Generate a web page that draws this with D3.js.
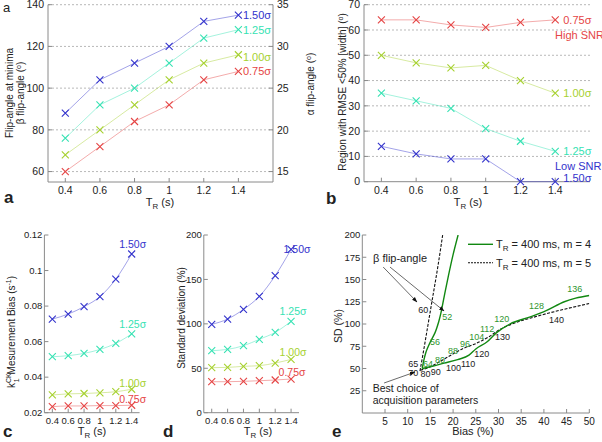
<!DOCTYPE html>
<html><head><meta charset="utf-8">
<script src="https://cdn.jsdelivr.net/npm/d3@7"></script>
<style>
body{margin:0;background:#fff}
svg{display:block}
text{font-family:"Liberation Sans",Arial,Helvetica,sans-serif;fill:#222}
</style>
</head><body>
<svg id="fig" width="602" height="442"></svg>
<script>
// ---------------- DATA ----------------
const TR = [0.4, 0.6, 0.8, 1.0, 1.2, 1.4];
const sigmaLabels = ["0.75σ", "1.00σ", "1.25σ", "1.50σ"];
const trTicks = [0.4, 0.6, 0.8, 1, 1.2, 1.4];

// panel a: beta flip-angle at minima (deg), rows follow sigmaLabels
const flipBeta = [
  [60, 72, 84, 92, 104, 108],
  [68, 80, 92, 104, 112, 116],
  [76, 92, 100, 112, 124, 128],
  [88, 104, 112, 120, 132, 135]
];
const flipBetaTicks = [60, 80, 100, 120, 140];
const flipAlphaTicks = [15, 20, 25, 30, 35];

// panel b: region with RMSE < 50% (deg)
const regionWidth = [
  [64, 64, 62, 61, 63, 64],
  [50, 47, 45, 46, 40, 35],
  [35, 32, 29, 21, 16, 12],
  [14, 11, 9, 9, 0, 0]
];
const regionTicks = [0, 10, 20, 30, 40, 50, 60, 70];

// panel c: k1CK measurement bias (1/s)
const biasK = [
  [0.0234, 0.0238, 0.0238, 0.0240, 0.0240, 0.0242],
  [0.0300, 0.0306, 0.0308, 0.0312, 0.0318, 0.0332],
  [0.0515, 0.0521, 0.0534, 0.0556, 0.0590, 0.0643],
  [0.0727, 0.0755, 0.0797, 0.0853, 0.0952, 0.1093]
];
const biasTicks = [0.02, 0.04, 0.06, 0.08, 0.1, 0.12];

// panel d: standard deviation (%)
const sdPct = [
  [34.9, 34.9, 35.3, 36.0, 36.8, 37.9],
  [50.7, 51.0, 52.2, 52.9, 55.9, 60.0],
  [69.8, 71.3, 75.4, 82.6, 90.4, 102.8],
  [99.4, 105.4, 116.3, 130.9, 154.2, 183.9]
];
const sdTicks = [0, 50, 100, 150, 200];

// panel e: SD vs Bias curves (Bias %, SD %)
const m4Steep = [[13.2,50],[13.5,58],[14,68],[15,80],[16,90],[16.8,102],[17.3,112],[18,130],[19,155],[20,178],[21.1,200]];
const m4Main  = [[13.2,50],[15,52],[18,56],[21,60],[23.5,65],[25,72],[27.5,80],[29.5,90],[32.5,100],[37,108],[40.5,115],[44.5,125],[47,129],[50,132]];
const m5Steep = [[12.7,47],[13.5,70],[14.5,100],[15.5,130],[16.5,160],[17.7,200]];
const m5Main  = [[12.8,48],[15,52],[18.5,62],[22,72],[25,78],[28,86],[30,93],[33,100],[38,108],[44,116],[50,123]];
const m4Angles = ["52","56","64","80","88","96","104","112","120","128","136"];
const m4AngleAt = [[18.7,108],[16,80],[14.5,55.7],[17.1,59.5],[20,69.6],[22.6,78.2],[25.2,85.7],[27.5,95.1],[30.7,106.3],[38.4,120.1],[46.8,140]];
const m5Angles = ["60","65","70","80","90","100","110","120","130","140"];
const m5AngleAt = [[13.4,115.6],[11.2,55],[11.2,45.2],[13.9,43.7],[16.2,46.3],[20.1,51.2],[23.3,55.7],[26.3,67],[30.9,85.7],[42.8,105.2]];
const eXTicks = [5,10,15,20,25,30,35,40,45,50];
const eYTicks = [25,50,75,100,125,150,175,200];

// ---------------- STYLE ----------------
const colors = ["#e54545", "#a6d12f", "#36e2b3", "#3333cc"];
const axisColor = "#8a8a8a";
const svg = d3.select("#fig");

svg.append("defs").append("marker")
  .attr("id","arr").attr("viewBox","0 0 10 10").attr("refX",9).attr("refY",5)
  .attr("markerWidth",7).attr("markerHeight",7).attr("orient","auto")
  .append("path").attr("d","M0,1.5L10,5L0,8.5Z").attr("fill","#111");

function cross(g, x, y, c) {
  g.append("path").attr("transform", `translate(${x},${y})`)
    .attr("d", "M-3.5,-3.5L3.5,3.5M-3.5,3.5L3.5,-3.5")
    .attr("stroke", c).attr("stroke-width", 1.1).attr("fill", "none");
}

function trLabel(g, cx, y, fs) {
  const t = g.append("text").attr("x", cx).attr("y", y).attr("text-anchor", "middle").attr("font-size", fs);
  t.append("tspan").text("T");
  t.append("tspan").attr("dy", 3).attr("font-size", fs * 0.72).text("R");
  t.append("tspan").attr("dy", -3).text(" (s)");
}

function yAxisLeft(g, y, x0, ticks, fmt, fs, top, bottom, gap) {
  g.append("line").attr("x1", x0).attr("x2", x0).attr("y1", top).attr("y2", bottom)
    .attr("stroke", axisColor);
  ticks.forEach(t => {
    g.append("line").attr("x1", x0).attr("x2", x0 + 4).attr("y1", y(t)).attr("y2", y(t)).attr("stroke", axisColor);
    g.append("text").attr("x", x0 - gap).attr("y", y(t)).attr("dy", "0.35em")
      .attr("text-anchor", "end").attr("font-size", fs).text(fmt(t));
  });
}
function xAxisBottom(g, x, y0, ticks, fmt, fs, left, right) {
  g.append("line").attr("x1", left).attr("x2", right).attr("y1", y0).attr("y2", y0).attr("stroke", axisColor);
  ticks.forEach(t => {
    g.append("line").attr("x1", x(t)).attr("x2", x(t)).attr("y1", y0).attr("y2", y0 - 4).attr("stroke", axisColor);
    g.append("text").attr("x", x(t)).attr("y", y0 + 4).attr("dy", "0.75em")
      .attr("text-anchor", "middle").attr("font-size", fs).text(fmt(t));
  });
}

function seriesPanel(o) {
  const g = svg.append("g");
  const x = d3.scaleLinear().domain(o.xd).range([o.left, o.right]);
  const y = d3.scaleLinear().domain(o.yd).range([o.bottom, o.top]);
  if (o.grid) {
    o.yTicks.forEach(t => {
      if (y(t) < o.bottom - 1)
        g.append("line").attr("x1", o.left).attr("x2", o.right).attr("y1", y(t)).attr("y2", y(t))
          .attr("stroke", "#9a9a9a").attr("stroke-width", 0.7).attr("stroke-dasharray", "2,2");
    });
  }
  yAxisLeft(g, y, o.left, o.yTicks, o.yFmt, o.fs, o.top, o.bottom, o.gap);
  xAxisBottom(g, x, o.bottom, trTicks, d => String(d), o.fs, o.left, o.right);
  const line = d3.line().x((d, i) => x(TR[i])).y(d => y(d)).curve(o.curve);
  o.data.forEach((row, k) => {
    g.append("path").attr("d", line(row)).attr("fill", "none")
      .attr("stroke", colors[k]).attr("stroke-opacity", 0.45).attr("stroke-width", 1);
    row.forEach((v, i) => cross(g, x(TR[i]), y(v), colors[k]));
    const off = o.labelOff[k];
    g.append("text").attr("x", x(TR[5]) + off[0]).attr("y", y(row[5]) + off[1]).attr("dy", "0.35em")
      .attr("text-anchor", off[2] || "start").attr("font-size", o.lfs)
      .style("fill", colors[k]).text(sigmaLabels[k]);
  });
  return {g, x, y};
}

// ---------------- PANEL a ----------------
const pa = seriesPanel({
  left: 48, right: 273, top: 4.7, bottom: 182, xd: [0.3, 1.6], yd: [55, 140],
  yTicks: flipBetaTicks, yFmt: d => d, fs: 10.5, lfs: 11, grid: true, gap: 4,
  data: flipBeta, curve: d3.curveLinear,
  labelOff: [[4.5, 0], [4.5, 2], [4.5, 0], [4.5, 0]]
});
{
  const g = pa.g;
  const yR = d3.scaleLinear().domain([55 / 4, 35]).range([182, 4.7]);
  g.append("line").attr("x1", 273).attr("x2", 273).attr("y1", 4.7).attr("y2", 182).attr("stroke", axisColor);
  flipAlphaTicks.forEach(t => {
    g.append("line").attr("x1", 273).attr("x2", 269).attr("y1", yR(t)).attr("y2", yR(t)).attr("stroke", axisColor);
    g.append("text").attr("x", 277).attr("y", yR(t)).attr("dy", "0.35em").attr("font-size", 10.5).text(t);
  });
  trLabel(g, 160, 206, 11);
  const yl = g.append("g").attr("transform", "translate(13,93) rotate(-90)");
  yl.append("text").attr("text-anchor", "middle").attr("font-size", 10).text("Flip-angle at minima");
  const t2 = yl.append("text").attr("y", 10.5).attr("text-anchor", "middle").attr("font-size", 10);
  t2.append("tspan").text("β flip-angle (");
  t2.append("tspan").attr("dy", -3).attr("font-size", 7).text("o");
  t2.append("tspan").attr("dy", 3).text(")");
  const yr = g.append("g").attr("transform", "translate(314,84) rotate(-90)");
  const t3 = yr.append("text").attr("text-anchor", "middle").attr("font-size", 10);
  t3.append("tspan").text("α flip-angle (");
  t3.append("tspan").attr("dy", -3).attr("font-size", 7).text("o");
  t3.append("tspan").attr("dy", 3).text(")");
  g.append("text").attr("x", 3).attr("y", 12).attr("font-size", 13).text("a");
  g.append("text").attr("x", 4).attr("y", 203).attr("font-size", 17).attr("font-weight", "bold").text("a");
}

// ---------------- PANEL b ----------------
const pb = seriesPanel({
  left: 364, right: 590, top: 4.7, bottom: 181.7, xd: [0.3, 1.6], yd: [0, 70],
  yTicks: regionTicks, yFmt: d => d, fs: 10.5, lfs: 11, grid: true, gap: 4,
  data: regionWidth, curve: d3.curveLinear,
  labelOff: [[8, 0], [8, 0], [8, 0], [8, -4]]
});
{
  const g = pb.g;
  g.append("text").attr("x", 555).attr("y", 35).attr("dy", "0.35em").attr("font-size", 11)
    .style("fill", colors[0]).text("High SNR");
  g.append("text").attr("x", 555).attr("y", 166.5).attr("dy", "0.35em").attr("font-size", 11)
    .style("fill", colors[3]).text("Low SNR");
  trLabel(g, 468, 206, 11);
  const yl = g.append("g").attr("transform", "translate(346,92) rotate(-90)");
  const t = yl.append("text").attr("text-anchor", "middle").attr("font-size", 10);
  t.append("tspan").text("Region with RMSE <50% [width] (");
  t.append("tspan").attr("dy", -3).attr("font-size", 7).text("o");
  t.append("tspan").attr("dy", 3).text(")");
  g.append("text").attr("x", 326).attr("y", 204).attr("font-size", 17).attr("font-weight", "bold").text("b");
}

// ---------------- PANEL c ----------------
const pc = seriesPanel({
  left: 44.4, right: 139.6, top: 235, bottom: 412.7, xd: [0.3, 1.5], yd: [0.02, 0.12],
  yTicks: biasTicks, yFmt: d => String(+d.toFixed(2)), fs: 9.5, lfs: 10.5, grid: false, gap: 2,
  data: biasK, curve: d3.curveMonotoneX,
  labelOff: [[1, -6, "middle"], [1, -6, "middle"], [1, -10, "middle"], [1, -10, "middle"]]
});
{
  const g = pc.g;
  trLabel(g, 92, 435, 11);
  const yl = g.append("g").attr("transform", "translate(15,332) rotate(-90)");
  const t = yl.append("text").attr("text-anchor", "middle").attr("font-size", 10);
  t.append("tspan").text("k");
  t.append("tspan").attr("dy", -4).attr("font-size", 7).text("CK");
  t.append("tspan").attr("dx", -9).attr("dy", 8).attr("font-size", 7).text("1");
  t.append("tspan").attr("dx", 4).attr("dy", -4).text("Mesurement Bias (s");
  t.append("tspan").attr("dy", -4).attr("font-size", 7).text("-1");
  t.append("tspan").attr("dy", 4).text(")");
  g.append("text").attr("x", 3).attr("y", 437).attr("font-size", 17).attr("font-weight", "bold").text("c");
}

// ---------------- PANEL d ----------------
const pd = seriesPanel({
  left: 203.8, right: 299, top: 235, bottom: 412.7, xd: [0.3, 1.5], yd: [0, 200],
  yTicks: sdTicks, yFmt: d => d, fs: 9.5, lfs: 10.5, grid: false, gap: 2,
  data: sdPct, curve: d3.curveMonotoneX,
  labelOff: [[1, -7, "middle"], [2, -7, "middle"], [2, -10, "middle"], [6, 0, "middle"]]
});
{
  const g = pd.g;
  trLabel(g, 258, 435, 11);
  const yl = g.append("g").attr("transform", "translate(185,318) rotate(-90)");
  yl.append("text").attr("text-anchor", "middle").attr("font-size", 10).text("Standard deviation (%)");
  g.append("text").attr("x", 163).attr("y", 437).attr("font-size", 17).attr("font-weight", "bold").text("d");
}

// ---------------- PANEL e ----------------
{
  const g = svg.append("g");
  const x = d3.scaleLinear().domain([0, 50]).range([362.3, 589.3]);
  const y = d3.scaleLinear().domain([0, 200]).range([413, 235]);
  yAxisLeft(g, y, 362.3, eYTicks, d => d, 9.5, 235, 413, 2);
  xAxisBottom(g, x, 413, eXTicks, d => d, 10, 362.3, 589.3);
  const clip = svg.append("defs").append("clipPath").attr("id", "ce");
  clip.append("rect").attr("x", 362.3).attr("y", 235).attr("width", 227).attr("height", 178);
  const ln = d3.line().x(d => x(d[0])).y(d => y(d[1])).curve(d3.curveMonotoneY);
  const lnX = d3.line().x(d => x(d[0])).y(d => y(d[1])).curve(d3.curveMonotoneX);
  const cg = g.append("g").attr("clip-path", "url(#ce)");
  cg.append("path").attr("d", ln(m5Steep)).attr("fill", "none").attr("stroke", "#111").attr("stroke-width", 1.1).attr("stroke-dasharray", "3,1.5");
  cg.append("path").attr("d", lnX(m5Main)).attr("fill", "none").attr("stroke", "#111").attr("stroke-width", 1.1).attr("stroke-dasharray", "3,1.5");
  cg.append("path").attr("d", ln(m4Steep)).attr("fill", "none").attr("stroke", "#118811").attr("stroke-width", 1.4);
  cg.append("path").attr("d", lnX(m4Main)).attr("fill", "none").attr("stroke", "#118811").attr("stroke-width", 1.4);
  m4Angles.forEach((s, i) => g.append("text").attr("x", x(m4AngleAt[i][0])).attr("y", y(m4AngleAt[i][1]))
    .attr("dy", "0.35em").attr("text-anchor", "middle").attr("font-size", 9).style("fill", "#2f962f").text(s));
  m5Angles.forEach((s, i) => g.append("text").attr("x", x(m5AngleAt[i][0])).attr("y", y(m5AngleAt[i][1]))
    .attr("dy", "0.35em").attr("text-anchor", "middle").attr("font-size", 9).style("fill", "#222").text(s));
  // legend
  g.append("line").attr("x1", 468).attr("x2", 493).attr("y1", 244.3).attr("y2", 244.3).attr("stroke", "#118811").attr("stroke-width", 1.4);
  g.append("line").attr("x1", 468).attr("x2", 493).attr("y1", 262.7).attr("y2", 262.7).attr("stroke", "#111").attr("stroke-width", 1.1).attr("stroke-dasharray", "2,1");
  [["4", 244.3], ["5", 262.7]].forEach(([m, yy]) => {
    const t = g.append("text").attr("x", 496).attr("y", yy).attr("dy", "0.35em").attr("font-size", 11);
    t.append("tspan").text("T");
    t.append("tspan").attr("dy", 3).attr("font-size", 8).text("R");
    t.append("tspan").attr("dy", -3).text(" = 400 ms, m = " + m);
  });
  // annotations
  g.append("text").attr("x", 373).attr("y", 262).attr("font-size", 11).text("β flip-angle");
  const arrows = [[[4.6, 164], [12.05, 124.7]], [[6.1, 164], [18.0, 114.6]], [[4.8, 33.7], [11.6, 46]]];
  arrows.forEach(([a, b]) => g.append("line").attr("x1", x(a[0])).attr("y1", y(a[1])).attr("x2", x(b[0])).attr("y2", y(b[1]))
    .attr("stroke", "#444").attr("stroke-width", 0.8).attr("marker-end", "url(#arr)"));
  g.append("text").attr("x", 372.7).attr("y", 392).attr("font-size", 10.5).text("Best choice of");
  g.append("text").attr("x", 372.7).attr("y", 404).attr("font-size", 10.5).text("acquisition parameters");
  g.append("text").attr("x", 473).attr("y", 435).attr("text-anchor", "middle").attr("font-size", 11).text("Bias (%)");
  g.append("g").attr("transform", "translate(342,326) rotate(-90)").append("text")
    .attr("text-anchor", "middle").attr("font-size", 10.5).text("SD (%)");
  g.append("text").attr("x", 332).attr("y", 437).attr("font-size", 17).attr("font-weight", "bold").text("e");
}
</script>
</body></html>
